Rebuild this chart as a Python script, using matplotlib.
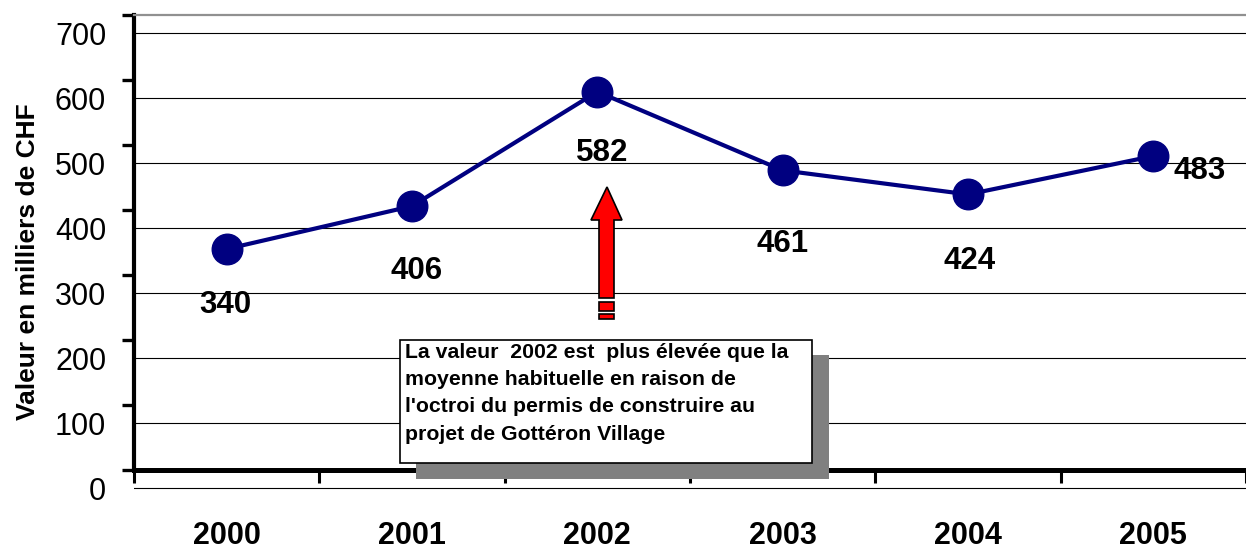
import matplotlib
matplotlib.use("Agg")
import matplotlib.pyplot as plt
import numpy as np
from matplotlib.patches import Rectangle, Polygon

plt.rcParams['font.family'] = ['Liberation Sans', 'DejaVu Sans']

# data
years = ['2000', '2001', '2002', '2003', '2004', '2005']
values = [340, 406, 582, 461, 424, 483]
# label offsets in pixels (dx, dy) relative to each point
label_offsets = [(-1, -56), (5, -65), (5, -61), (0, -74), (2, -67), (46, -15)]
y_ticks = [0, 100, 200, 300, 400, 500, 600, 700]
note = ("La valeur  2002 est  plus élevée que la\n"
        "moyenne habituelle en raison de\n"
        "l'octroi du permis de construire au\n"
        "projet de Gottéron Village")

W, H = 1246, 550
shift = 27.7  # gridlines / labels drawn lower than the real values (pseudo 3D look)


def fx(x):
    return x / W


def fy(y):
    return 1 - y / H


fig = plt.figure(figsize=(W / 100, H / 100), dpi=100)
ylo = -32
top_px = 15
bot_px = top_px + (700 - ylo) * 0.65
ax = fig.add_axes([fx(134), fy(bot_px), fx(W) - fx(134), (bot_px - top_px) / H])

x = np.arange(len(years))
ax.plot(x, values, color='#000080', lw=3, marker='o', ms=22, mec='#000080',
        mfc='#000080', zorder=5, clip_on=False)

for xi, v, (dx, dy) in zip(x, values, label_offsets):
    ax.annotate(str(v), (xi, v), xytext=(dx, dy), textcoords='offset pixels',
                ha='center', va='center', fontsize=22.5, fontweight='bold')

ax.set_xlim(-0.5, (W - 227) / 186.2)
ax.set_ylim(ylo, 700)

# spines
ax.spines['right'].set_visible(False)
ax.spines['top'].set_color('#909090')
ax.spines['top'].set_linewidth(1.6)
ax.spines['left'].set_linewidth(3)
ax.spines['left'].set_bounds(0, 700)
ax.spines['bottom'].set_position(('data', 0))
ax.spines['bottom'].set_linewidth(3.6)

# y ticks: marks at true values, labels and grid shifted down
ax.set_yticks(y_ticks)
ax.set_yticklabels([])
ax.set_yticks([t - shift for t in y_ticks], minor=True)
ax.set_yticklabels([str(t) for t in y_ticks], minor=True, fontsize=22)
ax.tick_params(axis='y', which='major', direction='out', length=9, width=2.4)
ax.tick_params(axis='y', which='minor', length=0, pad=20)
ax.grid(which='minor', axis='y', color='black', lw=0.8)

# x ticks: marks between categories, labels centred
ax.set_xticks(np.arange(-0.5, len(years), 1))
ax.set_xticklabels([])
ax.set_xticks(x, minor=True)
ax.set_xticklabels(years, minor=True, fontsize=22, fontweight='bold')
ax.tick_params(axis='x', which='major', direction='out', length=9, width=2.2)
ax.tick_params(axis='x', which='minor', length=0, pad=37)

fig.text(fx(28), fy(262), 'Valeur en milliers de CHF', rotation=90,
         ha='center', va='center', fontsize=19, fontweight='bold')

# note box with shadow
fig.add_artist(Rectangle((fx(416), fy(479)), fx(829) - fx(416), fy(355) - fy(479),
                         transform=fig.transFigure, facecolor='#808080',
                         edgecolor='none', zorder=10))
fig.add_artist(Rectangle((fx(400), fy(463)), fx(812) - fx(400), fy(340) - fy(463),
                         transform=fig.transFigure, facecolor='white',
                         edgecolor='black', lw=1.2, zorder=11))
fig.text(fx(405), fy(343), note, ha='left', va='top', fontsize=15.3,
         fontweight='bold', linespacing=1.55, zorder=12)

# red arrow pointing at 2002
arrow_px = [(607, 187), (622, 220), (614, 220), (614, 298), (599, 298),
            (599, 220), (591, 220)]
fig.add_artist(Polygon([(fx(a), fy(b)) for a, b in arrow_px], closed=True,
                       transform=fig.transFigure, facecolor='red',
                       edgecolor='black', lw=1.2, zorder=9))
for y0, y1 in [(302, 311), (314, 319)]:
    fig.add_artist(Rectangle((fx(599), fy(y1)), fx(614) - fx(599), fy(y0) - fy(y1),
                             transform=fig.transFigure, facecolor='red',
                             edgecolor='black', lw=1.2, zorder=9))

fig.savefig('out.png', dpi=100)
